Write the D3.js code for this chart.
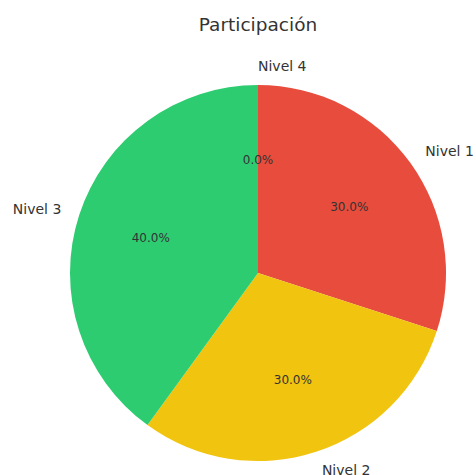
<!DOCTYPE html>
<html>
<head>
<meta charset="utf-8">
<script src="https://cdn.jsdelivr.net/npm/d3@7"></script>
<style>
  body { margin: 0; background: #fff; }
  text { font-family: "DejaVu Sans", sans-serif; }
</style>
</head>
<body>
<div id="chart"></div>
<script>
const labels = ["Nivel 1", "Nivel 2", "Nivel 3", "Nivel 4"];
const values = [30, 30, 40, 0];
const colors = ["#e74c3c", "#f1c40f", "#2ecc71", "#3498db"];

const width = 476, height = 475;
const cx = 258, cy = 273, r = 188;

const svg = d3.select("#chart").append("svg")
  .attr("width", width)
  .attr("height", height);

svg.append("text")
  .attr("x", cx)
  .attr("y", 31)
  .attr("text-anchor", "middle")
  .attr("font-size", 18.5)
  .attr("fill", "#333")
  .text("Participación");

const data = labels.map((l, i) => ({ label: l, value: values[i], color: colors[i] }));

const pie = d3.pie().sort(null).value(d => d.value);
const arcs = pie(data);
const arc = d3.arc().innerRadius(0).outerRadius(r);
const total = d3.sum(values);

const g = svg.append("g").attr("transform", `translate(${cx},${cy})`);

g.selectAll("path.slice")
  .data(arcs)
  .join("path")
  .attr("class", "slice")
  .attr("d", arc)
  .attr("fill", d => d.data.color);

const mid = d => (d.startAngle + d.endAngle) / 2;

// category labels at 1.1 r
g.selectAll("text.lab")
  .data(arcs)
  .join("text")
  .attr("class", "lab")
  .each(function (d) {
    const a = mid(d);
    const x = Math.sin(a) * r * 1.1, y = -Math.cos(a) * r * 1.1;
    d3.select(this)
      .attr("x", x)
      .attr("y", y)
      .attr("dy", "0.35em")
      .attr("text-anchor", x > -1e-6 ? "start" : "end");
  })
  .attr("font-size", 14)
  .attr("fill", "#333")
  .text(d => d.data.label);

// percentages at 0.6 r
g.selectAll("text.pct")
  .data(arcs)
  .join("text")
  .attr("class", "pct")
  .attr("x", d => Math.sin(mid(d)) * r * 0.6)
  .attr("y", d => -Math.cos(mid(d)) * r * 0.6)
  .attr("dy", "0.35em")
  .attr("text-anchor", "middle")
  .attr("font-size", 12)
  .attr("fill", "#333")
  .text(d => (d.data.value / total * 100).toFixed(1) + "%");
</script>
</body>
</html>
